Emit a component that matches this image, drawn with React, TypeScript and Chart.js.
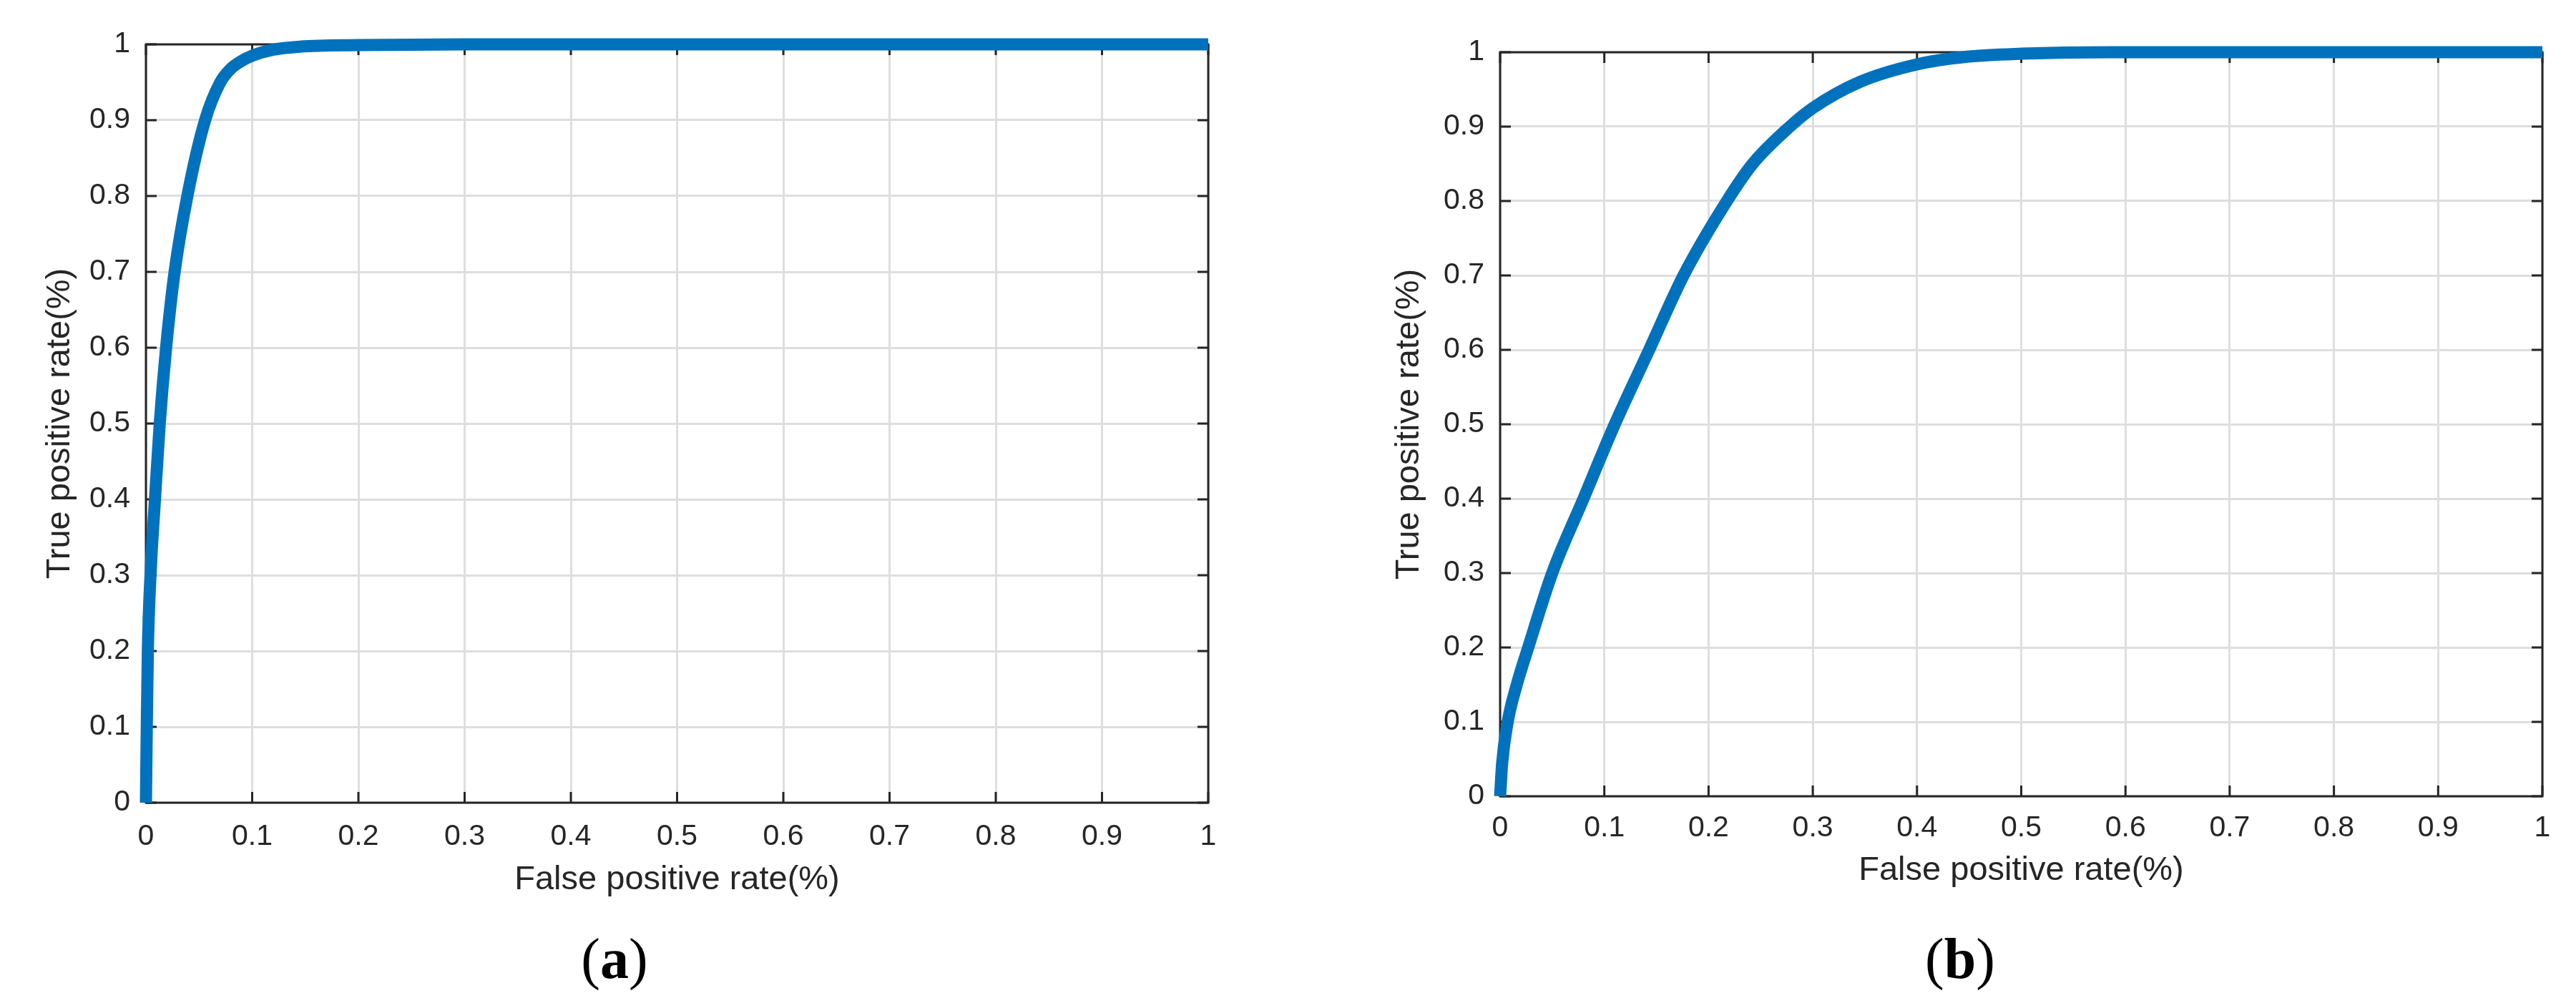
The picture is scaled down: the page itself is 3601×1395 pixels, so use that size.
import React, { useEffect, useRef } from "react";
import { Chart, registerables } from "chart.js";

Chart.register(...registerables);

// ---- data ----
const leftFpr = [0, 0.0008, 0.0018, 0.0043, 0.0085, 0.013, 0.019, 0.027, 0.039, 0.0557, 0.07, 0.08, 0.09, 0.1, 0.12, 0.145, 0.2, 0.3, 1];
const leftTpr = [0, 0.1, 0.2, 0.3, 0.4, 0.5, 0.6, 0.7, 0.8, 0.9, 0.95, 0.968, 0.978, 0.985, 0.993, 0.997, 0.999, 1, 1];

const rightFpr = [0, 0.002, 0.0073, 0.016, 0.027, 0.05, 0.08, 0.11, 0.143, 0.176, 0.2176, 0.2423, 0.278, 0.3, 0.345, 0.4, 0.448, 0.5, 0.586, 1];
const rightTpr = [0, 0.045, 0.1, 0.15, 0.2, 0.3, 0.4, 0.5, 0.6, 0.7, 0.8, 0.85, 0.9, 0.925, 0.96, 0.9837, 0.994, 0.998, 1, 1];

const xTickLabels = ["0", "0.1", "0.2", "0.3", "0.4", "0.5", "0.6", "0.7", "0.8", "0.9", "1"];
const yTickLabels = ["0", "0.1", "0.2", "0.3", "0.4", "0.5", "0.6", "0.7", "0.8", "0.9", "1"];

const xTitle = "False positive rate(%)";
const yTitle = "True positive rate(%)";
const panelLabels = ["a", "b"];

// ---- style ----
const AXIS = "#262626";
const GRID = "#dedede";
const LINE = "#0072BD";
const FONT = "'Liberation Sans', Arial, Helvetica, sans-serif";

const boxPlugin = {
  id: "matlabBox",
  beforeDatasetsDraw(chart: any) {
    const { ctx, chartArea } = chart;
    const { left, right, top, bottom } = chartArea;
    const xs = chart.scales.x;
    const ys = chart.scales.y;
    const L = 15;
    ctx.save();
    ctx.strokeStyle = AXIS;
    ctx.lineWidth = 3;
    ctx.lineCap = "butt";
    ctx.beginPath();
    xs.ticks.forEach((t: any) => {
      const px = xs.getPixelForValue(t.value);
      ctx.moveTo(px, bottom);
      ctx.lineTo(px, bottom - L);
      ctx.moveTo(px, top);
      ctx.lineTo(px, top + L);
    });
    ys.ticks.forEach((t: any) => {
      const py = ys.getPixelForValue(t.value);
      ctx.moveTo(left, py);
      ctx.lineTo(left + L, py);
      ctx.moveTo(right, py);
      ctx.lineTo(right - L, py);
    });
    ctx.stroke();
    ctx.strokeRect(left, top, right - left, bottom - top);
    ctx.restore();
  },
};

type PanelCfg = {
  fpr: number[];
  tpr: number[];
  width: number;
  height: number;
  padTop: number;
  padRight: number;
  yAxisWidth: number;
  xAxisHeight: number;
  xTickPad: number;
  xTitlePadBottom: number;
  yTitlePadTop: number;
};

function makeConfig(c: PanelCfg): any {
  const data = c.fpr.map((v, i) => ({ x: v, y: c.tpr[i] }));
  return {
    type: "line",
    data: {
      datasets: [
        {
          data,
          borderColor: LINE,
          backgroundColor: LINE,
          borderWidth: 17,
          borderJoinStyle: "round",
          borderCapStyle: "butt",
          pointRadius: 0,
          cubicInterpolationMode: "monotone",
          fill: false,
          clip: false,
        },
      ],
    },
    options: {
      responsive: false,
      animation: false,
      devicePixelRatio: 1,
      layout: { padding: { top: c.padTop, right: c.padRight, left: 0, bottom: 0 } },
      plugins: { legend: { display: false }, tooltip: { enabled: false } },
      scales: {
        x: {
          type: "linear",
          min: 0,
          max: 1,
          afterFit: (s: any) => {
            s.height = c.xAxisHeight;
          },
          ticks: {
            stepSize: 0.1,
            autoSkip: false,
            maxRotation: 0,
            padding: c.xTickPad,
            color: AXIS,
            font: { family: FONT, size: 41 },
            callback: (_v: any, i: number) => xTickLabels[i],
          },
          grid: { color: GRID, lineWidth: 3, drawTicks: false },
          border: { display: false },
          title: {
            display: true,
            text: xTitle,
            color: AXIS,
            font: { family: FONT, size: 47 },
            padding: { top: 0, bottom: c.xTitlePadBottom },
          },
        },
        y: {
          type: "linear",
          min: 0,
          max: 1,
          afterFit: (s: any) => {
            s.width = c.yAxisWidth;
          },
          ticks: {
            stepSize: 0.1,
            autoSkip: false,
            padding: 22,
            color: AXIS,
            font: { family: FONT, size: 41 },
            callback: (_v: any, i: number) => yTickLabels[i],
          },
          grid: { color: GRID, lineWidth: 3, drawTicks: false },
          border: { display: false },
          title: {
            display: true,
            text: yTitle,
            color: AXIS,
            font: { family: FONT, size: 47 },
            padding: { top: c.yTitlePadTop, bottom: 0 },
          },
        },
      },
    },
    plugins: [boxPlugin],
  };
}

function Panel(props: { cfg: PanelCfg; left: number }) {
  const ref = useRef<HTMLCanvasElement | null>(null);
  useEffect(() => {
    if (!ref.current) return;
    const chart = new Chart(ref.current, makeConfig(props.cfg));
    return () => chart.destroy();
  }, []);
  return (
    <canvas
      ref={ref}
      width={props.cfg.width}
      height={props.cfg.height}
      style={{
        position: "absolute",
        left: props.left,
        top: 0,
        width: props.cfg.width,
        height: props.cfg.height,
      }}
    />
  );
}

const leftCfg: PanelCfg = {
  fpr: leftFpr,
  tpr: leftTpr,
  width: 1800,
  height: 1395,
  padTop: 62,
  padRight: 111,
  yAxisWidth: 204,
  xAxisHeight: 273,
  xTickPad: 23,
  xTitlePadBottom: 137,
  yTitlePadTop: 56,
};

const rightCfg: PanelCfg = {
  fpr: rightFpr,
  tpr: rightTpr,
  width: 1801,
  height: 1395,
  padTop: 73,
  padRight: 47,
  yAxisWidth: 297,
  xAxisHeight: 282,
  xTickPad: 20,
  xTitlePadBottom: 150,
  yTitlePadTop: 142,
};

function PanelLabel(props: { text: string; cx: number; cy: number }) {
  return (
    <div
      style={{
        position: "absolute",
        left: props.cx,
        top: props.cy,
        transform: "translate(-50%, -50%)",
        fontFamily: "'Liberation Serif', 'Times New Roman', serif",
        fontSize: 80,
        lineHeight: 1,
        color: "#000",
        whiteSpace: "nowrap",
      }}
    >
      (<b>{props.text}</b>)
    </div>
  );
}

export default function App() {
  return (
    <div
      style={{
        position: "absolute",
        left: 0,
        top: 0,
        width: 3601,
        height: 1395,
        background: "#fff",
        overflow: "hidden",
      }}
    >
      <Panel cfg={leftCfg} left={0} />
      <Panel cfg={rightCfg} left={1800} />
      <PanelLabel text={panelLabels[0]} cx={859} cy={1340} />
      <PanelLabel text={panelLabels[1]} cx={2740} cy={1340} />
    </div>
  );
}
